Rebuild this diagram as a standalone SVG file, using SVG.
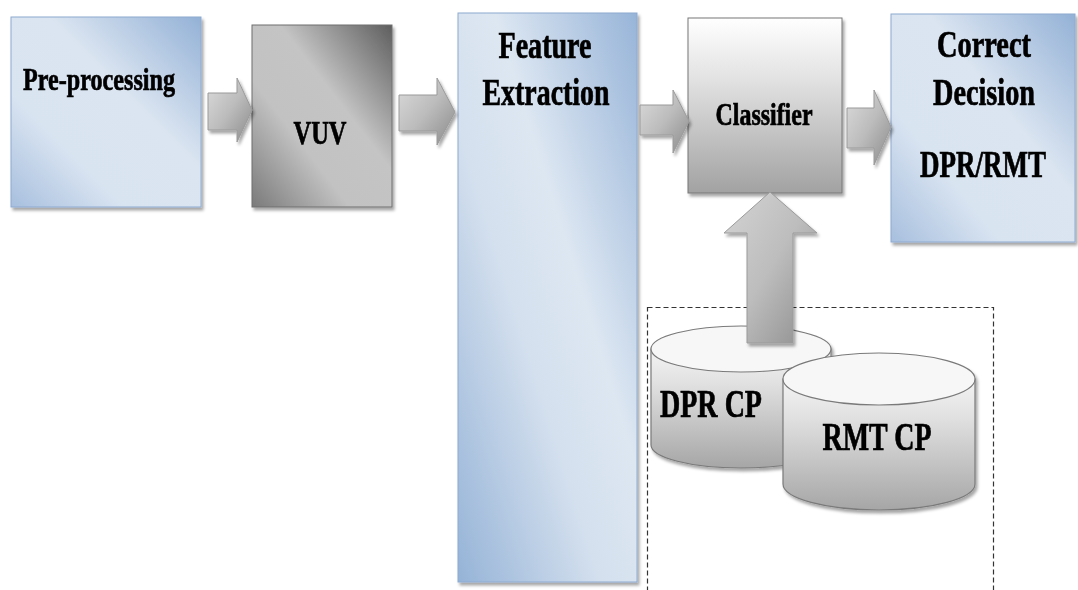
<svg xmlns="http://www.w3.org/2000/svg" width="1078" height="590" viewBox="0 0 1078 590">
<defs>
  <linearGradient id="gBlue" x1="0" y1="1" x2="1" y2="0">
    <stop offset="0" stop-color="#a7bfde"/>
    <stop offset="0.3" stop-color="#d9e4f1"/>
    <stop offset="0.6" stop-color="#dbe5f1"/>
    <stop offset="1" stop-color="#93b1d6"/>
  </linearGradient>
  <linearGradient id="gFE" x1="0" y1="1" x2="1" y2="0">
    <stop offset="0" stop-color="#95b3d7"/>
    <stop offset="0.4" stop-color="#d4e0ee"/>
    <stop offset="0.6" stop-color="#dde7f2"/>
    <stop offset="1" stop-color="#97b4d8"/>
  </linearGradient>
  <linearGradient id="gVUV" x1="0" y1="1" x2="1" y2="0">
    <stop offset="0" stop-color="#7a7a7a"/>
    <stop offset="0.35" stop-color="#c2c2c2"/>
    <stop offset="0.6" stop-color="#c4c4c4"/>
    <stop offset="1" stop-color="#5e5e5e"/>
  </linearGradient>
  <linearGradient id="gCls" x1="0" y1="0" x2="0" y2="1">
    <stop offset="0" stop-color="#ffffff"/>
    <stop offset="0.35" stop-color="#e2e2e2"/>
    <stop offset="1" stop-color="#a2a2a2"/>
  </linearGradient>
  <linearGradient id="gArrow" x1="0" y1="0" x2="1" y2="1">
    <stop offset="0" stop-color="#dcdcdc"/>
    <stop offset="0.5" stop-color="#bcbcbc"/>
    <stop offset="1" stop-color="#8a8a8a"/>
  </linearGradient>
  <linearGradient id="gUp" x1="0" y1="0" x2="1" y2="1">
    <stop offset="0" stop-color="#d4d4d4"/>
    <stop offset="0.5" stop-color="#bdbdbd"/>
    <stop offset="1" stop-color="#8c8c8c"/>
  </linearGradient>
  <linearGradient id="gCyl" x1="0" y1="0" x2="0" y2="1">
    <stop offset="0" stop-color="#f4f4f4"/>
    <stop offset="0.3" stop-color="#e0e0e0"/>
    <stop offset="1" stop-color="#a6a6a6"/>
  </linearGradient>
  <filter id="sh" x="-10%" y="-10%" width="130%" height="130%">
    <feDropShadow dx="2" dy="3" stdDeviation="1.5" flood-color="#000" flood-opacity="0.35"/>
  </filter>
  <style>
    .lbl { font-family: "Liberation Serif", "Times New Roman", serif; font-weight: bold; fill: #000; stroke: #000; stroke-width: 0.7; text-anchor: middle; }
    .box { stroke: #8eaad0; stroke-width: 1; }
    .arr { stroke: #9a9a9a; stroke-width: 1; }
    .cyl { stroke: #7a7a7a; stroke-width: 1.2; }
  </style>
</defs>
<rect width="1078" height="590" fill="#ffffff"/>

<g id="store-boundary">
  <rect x="647.5" y="307.5" width="346" height="300" fill="none" stroke="#333" stroke-width="1.2" stroke-dasharray="5,3"/>
</g>

<g id="preprocessing" filter="url(#sh)">
  <rect class="box" x="11" y="17" width="190" height="190" fill="url(#gBlue)"/>
  <text class="lbl" x="99" y="90" font-size="31" textLength="152" lengthAdjust="spacingAndGlyphs">Pre-processing</text>
</g>

<g id="vuv" filter="url(#sh)">
  <rect x="252" y="25" width="140" height="182" fill="url(#gVUV)" stroke="#6f6f6f" stroke-width="1"/>
  <text class="lbl" x="320" y="144" font-size="33" textLength="53" lengthAdjust="spacingAndGlyphs">VUV</text>
</g>

<g id="feature-extraction" filter="url(#sh)">
  <rect class="box" x="458" y="13" width="179" height="569" fill="url(#gFE)"/>
  <text class="lbl" x="545" y="58" font-size="37" textLength="93" lengthAdjust="spacingAndGlyphs">Feature</text>
  <text class="lbl" x="546" y="105" font-size="37" textLength="127" lengthAdjust="spacingAndGlyphs">Extraction</text>
</g>

<g id="classifier" filter="url(#sh)">
  <rect x="688" y="18" width="154" height="175" fill="url(#gCls)" stroke="#777" stroke-width="1"/>
  <text class="lbl" x="764" y="125" font-size="31" textLength="97" lengthAdjust="spacingAndGlyphs">Classifier</text>
</g>

<g id="correct-decision" filter="url(#sh)">
  <rect class="box" x="891" y="14" width="184" height="228" fill="url(#gBlue)"/>
  <text class="lbl" x="984" y="57" font-size="37" textLength="94" lengthAdjust="spacingAndGlyphs">Correct</text>
  <text class="lbl" x="984" y="105" font-size="37" textLength="102" lengthAdjust="spacingAndGlyphs">Decision</text>
  <text class="lbl" transform="translate(983,177) scale(0.73,1)" x="0" y="0" font-size="37">DPR/RMT</text>
</g>

<g id="dpr-cp" filter="url(#sh)">
  <path class="cyl" d="M651,349 L651,445 A90,23 0 0 0 831,445 L831,349 Z" fill="url(#gCyl)"/>
  <ellipse class="cyl" cx="741" cy="349" rx="90" ry="23" fill="#f7f7f7"/>
  <text class="lbl" x="711" y="417" font-size="41" textLength="102" lengthAdjust="spacingAndGlyphs">DPR CP</text>
</g>

<g id="rmt-cp" filter="url(#sh)">
  <path class="cyl" d="M783,379 L783,484 A96,26 0 0 0 975,484 L975,379 Z" fill="url(#gCyl)"/>
  <ellipse class="cyl" cx="879" cy="379" rx="96" ry="26" fill="#f7f7f7"/>
  <text class="lbl" x="877" y="450" font-size="41" textLength="109" lengthAdjust="spacingAndGlyphs">RMT CP</text>
</g>

<g id="connectors" filter="url(#sh)">
  <polygon class="arr" points="208,93 237,93 237,78 252,110 237,142 237,130 208,130" fill="url(#gArrow)"/>
  <polygon class="arr" points="399,95 437,95 437,78 455,112 437,145 437,131 399,131" fill="url(#gArrow)"/>
  <polygon class="arr" points="640,105 673,105 673,90 689,121 673,153 673,135 640,135" fill="url(#gArrow)"/>
  <polygon class="arr" points="847,108 874,108 874,90 891,127 874,165 874,148 847,148" fill="url(#gArrow)"/>
  <polygon class="arr" points="747,343 747,233 724,233 770,192 817,233 793,233 793,343" fill="url(#gUp)"/>
</g>
</svg>
